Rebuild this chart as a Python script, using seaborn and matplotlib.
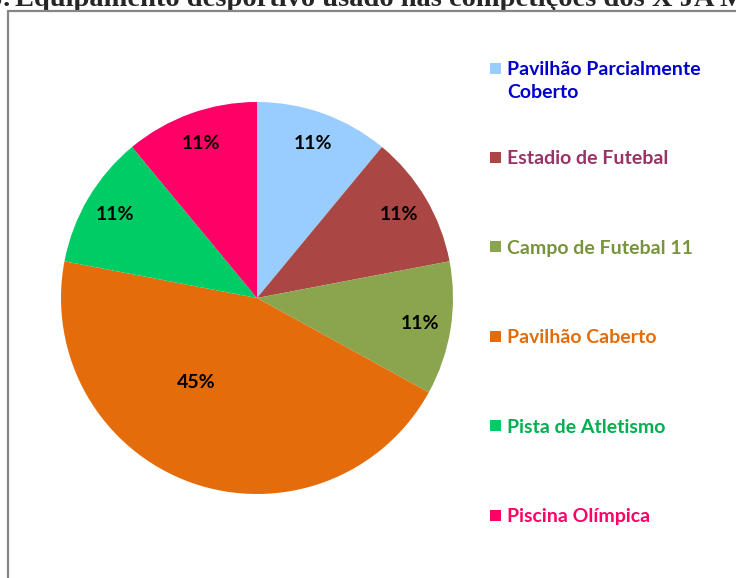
import matplotlib
matplotlib.use("Agg")
import matplotlib.pyplot as plt
import seaborn as sns
from matplotlib.patches import Rectangle

# data
categorias = ["Pavilhão Parcialmente\nCoberto", "Estadio de Futebal", "Campo de Futebal 11",
              "Pavilhão Caberto", "Pista de Atletismo", "Piscina Olímpica"]
percentagens = [11, 11, 11, 45, 11, 11]
cores_fatias = ["#99CCFF", "#AA4643", "#8BA54E", "#E46C0A", "#00CC66", "#FF0066"]
cores_legenda = ["#0000CC", "#993366", "#77933C", "#E36C09", "#00B050", "#FF0066"]
titulo_esq = "Gráfico 4.6:"
titulo_dir = "Equipamento desportivo usado nas competições dos X JA Maputo 2011"

sns.set_theme(style="white")
plt.rcParams["font.family"] = ["Lato", "DejaVu Sans"]

W, H = 736, 578
fig = plt.figure(figsize=(W / 100, H / 100), dpi=100)
fig.patch.set_facecolor("white")

# title (cut by the top of the picture)
fig.text(11 / W, 1 - 6 / H, titulo_esq, ha="right", va="baseline",
         family="Liberation Serif", fontweight="bold", fontsize=20.5, zorder=1)
fig.text(15 / W, 1 - 6 / H, titulo_dir, ha="left", va="baseline",
         family="Liberation Serif", fontweight="bold", fontsize=20.5, zorder=1)

# white chart area with grey border
fig.patches.append(Rectangle((8 / W, -0.1), 1.2, 1.1 - 11 / H, transform=fig.transFigure,
                             facecolor="white", edgecolor="#868686", linewidth=1.6, zorder=2))

# pie
R = 196
cx, cy = 257, 298
ax = fig.add_axes([(cx - R) / W, (H - cy - R) / H, 2 * R / W, 2 * R / H], zorder=3)
ax.set_facecolor("none")
wedges, texts, autotexts = ax.pie(
    percentagens, colors=sns.color_palette(cores_fatias), startangle=90, counterclock=False,
    autopct="%1.0f%%", pctdistance=0.84, radius=1,
    wedgeprops=dict(linewidth=0),
    textprops=dict(fontsize=14, fontweight="bold", color="black"))
autotexts[3].set_position((-0.31, -0.43))
ax.set_xlim(-1, 1)
ax.set_ylim(-1, 1)
ax.axis("off")

# legend, laid out like Excel: first lines evenly spaced
y0, passo = 68, 89.4
for i, (nome, w, cor) in enumerate(zip(categorias, wedges, cores_legenda)):
    yc = y0 + i * passo
    fig.patches.append(Rectangle((490 / W, 1 - (yc + 5.5) / H), 11 / W, 11 / H,
                                 transform=fig.transFigure, facecolor=w.get_facecolor(),
                                 edgecolor="none", zorder=4))
    fig.text(507 / W, 1 - (yc - 7) / H, nome, ha="left", va="top", color=cor,
             fontsize=14, fontweight="bold", linespacing=1.45, zorder=4)

fig.savefig("out.png", dpi=100, facecolor="white")
